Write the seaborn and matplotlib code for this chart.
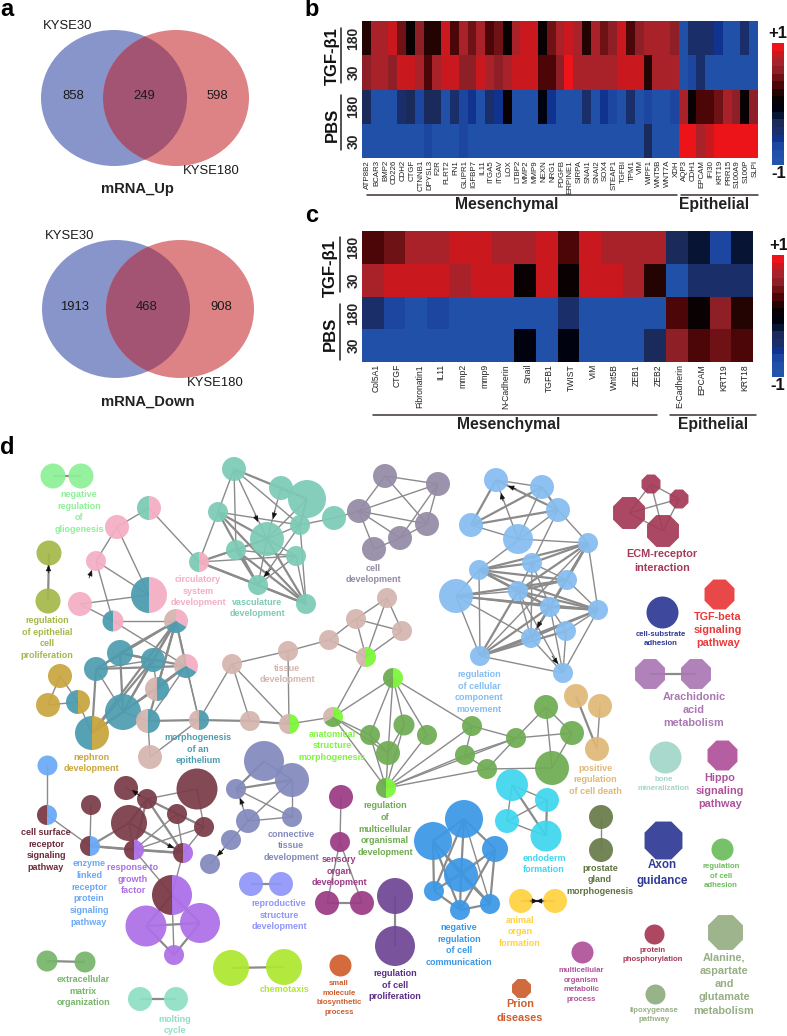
import numpy as np
import matplotlib
matplotlib.use('Agg')
import matplotlib.pyplot as plt
import seaborn as sns
from matplotlib.colors import ListedColormap, BoundaryNorm
from matplotlib.patches import Ellipse, Wedge
from matplotlib.transforms import ScaledTranslation

W, H = 787, 1036

# panel b / c heatmap values
genes_b = ['ATP8B2', 'BCAR3', 'BMP2', 'CD226', 'CDH2', 'CTGF', 'CTNNB1', 'DPYSL3', 'F2R', 'FLRT2', 'FN1', 'GLIPR1',
           'IGFBP7', 'IL11', 'ITGA5', 'ITGAV', 'LOX', 'LTBP2', 'MMP2', 'MMP9', 'NEXN', 'NRG1', 'PDGFB', 'ERPINE1',
           'SIRPA', 'SNAI1', 'SNAI2', 'SOX4', 'STEAP1', 'TGFBI', 'TPM1', 'VIM', 'WIPF1', 'WNT5B', 'WNT7A', 'XDH',
           'AQP3', 'CDH1', 'EPCAM', 'IFI30', 'KRT19', 'PRR15', 'S100A9', 'S100P', 'SLPI']
tgf180_b = [.2, .7, .7, .85, .45, .12, .55, .2, .2, .85, .3, .65, .45, .7, .3, .45, .05, .7, .85, .85, .02, .45, .7,
            .85, .7, .15, .7, .45, .6, .85, .3, .6, .7, .7, .7, .55, -.8, -.4, -.5, -.4, -.6, -.8, -.8, -.4, -.8]
tgf30_b = [.5, .7, .7, .6, .85, .85, .7, .3, .7, .85, .85, .5, .6, .85, .7, .6, .7, .85, .85, .85, .3, .3, .6, 1,
           .7, .7, .7, .7, .7, .85, .85, .85, .15, .7, .7, .7, -.8, -.7, -.4, -.8, -.8, -.8, -.8, -.8, -.8]
pbs180_b = [-.3, -.8, -.8, -.8, -.4, -.3, -.75, -.3, -.3, -.8, -.4, -.7, -.6, -.8, -.4, -.6, .03, -.8, -.8, -.8,
            -.1, -.6, -.8, -.8, -.8, -.4, -.8, -.6, -.7, -.8, -.4, -.8, -.75, -.8, -.8, -.75,
            .65, .12, .3, .3, .45, .7, .6, .12, .55]
pbs30_b = [-.8, -.8, -.8, -.8, -.8, -.8, -.8, -.75, -.8, -.8, -.8, -.75, -.8, -.8, -.8, -.8, -.8, -.8, -.8, -.8,
           -.8, -.8, -.8, -.8, -.8, -.8, -.8, -.8, -.8, -.8, -.8, -.8, -.35, -.8, -.8, -.8,
           1, 1, .65, .85, 1, 1, 1, 1, 1]

genes_c = ['Col5A1', 'CTGF', 'Fibronatin1', 'IL11', 'mmp2', 'mmp9', 'N-Cadherin', 'Snail', 'TGFB1', 'TWIST', 'VIM',
           'Wnt5B', 'ZEB1', 'ZEB2', 'E-Cadherin', 'EPCAM', 'KRT19', 'KRT18']
tgf180_c = [.3, .42, .7, .7, .85, .85, .7, .7, .85, .33, .85, .7, .7, .7, -.35, -.15, -.75, -.25]
tgf30_c = [.65, .85, .85, .85, .7, .85, .85, .03, .85, .03, .85, .85, .7, .15, -.8, -.4, -.45, -.4]
pbs180_c = [-.4, -.65, -.8, -.75, -.8, -.8, -.8, -.8, -.8, -.5, -.8, -.8, -.8, -.8, .3, .05, .55, .15]
pbs30_c = [-.8, -.8, -.8, -.8, -.8, -.8, -.8, -.1, -.8, -.12, -.8, -.8, -.8, -.3, .6, .3, .45, .3]
rows = ['180', '30', '180', '30']

cbar_colors = ['#2353ab', '#2050a8', '#1c46a0', '#0f338e', '#1a2e6a', '#1a2a5a', '#081433', '#01020f',
               '#0a0202', '#240303', '#4c0608', '#6f1216', '#8f1f27', '#a9222a', '#c9191f', '#ec1419']

# panel a
venn_up = ['858', '249', '598']
venn_down = ['1913', '468', '908']

# panel d colours
PINK, AQUA, TEAL, TAN, GOLD = '#f4aec3', '#7ccbb6', '#4d9db0', '#d4b5ae', '#c9a63f'
LIME, GREEN, MAROON, PURPLE, LB = '#7df73a', '#6fac52', '#7a3b48', '#ad6fe8', '#6aa9f5'

# panel d nodes: x, y, radius
gl = [(53, 476, 12.5), (81, 476, 12.5)]
ol = [(49, 553, 12.5), (48, 601, 12.5)]
p = [(117, 527, 12), (96, 561, 10), (80, 604, 12), (149, 508, 12), (149, 595, 18), (113, 621, 10.5), (199, 562, 10)]
v = [(234, 469, 12), (281, 488, 12), (307, 499, 19), (218, 512, 10), (300, 525, 10), (334, 518, 12), (267, 539, 17),
     (236, 550, 10), (296, 556, 10), (258, 585, 10), (306, 604, 10)]
c = [(385, 476, 12), (359, 511, 12), (374, 549, 12), (438, 484, 12), (427, 524, 12), (400, 538, 12)]
t = [(120, 653, 13), (96, 669, 12), (153, 660, 12), (123, 712, 18), (157, 689, 12), (148, 721, 12), (176, 621, 12),
     (186, 666, 12), (199, 720, 10)]
n = [(60, 676, 12), (48, 705, 12), (78, 702, 12), (92, 733, 17)]
a = [(232, 664, 10), (288, 651, 10), (329, 640, 10), (356, 619, 10), (387, 598, 10), (402, 631, 10), (250, 721, 10),
     (150, 757, 12), (366, 657, 10), (289, 724, 10), (333, 717, 10)]
g = [(393, 678, 10), (370, 735, 10), (404, 725, 10.5), (388, 753, 12), (386, 788, 10), (427, 735, 10), (472, 726, 10),
     (516, 738, 10), (546, 707, 12), (572, 733, 12), (465, 755, 10), (487, 769, 10), (552, 768, 17)]
o = [(576, 696, 12), (600, 706, 12), (597, 749, 12)]
b = [(496, 480, 12), (542, 487, 12), (558, 510, 12), (471, 525, 12), (518, 539, 15), (588, 543, 10), (479, 570, 10),
     (532, 563, 10), (567, 580, 10), (456, 596, 17), (518, 591, 10), (550, 607, 10), (598, 610, 10), (531, 638, 10),
     (566, 631, 10), (480, 656, 10), (563, 673, 10)]
r = [(91, 805, 10), (126, 788, 12), (147, 799, 10), (197, 789, 20.5), (129, 823, 18), (177, 814, 10), (204, 827, 10),
     (47, 815, 10), (90, 846, 10), (134, 850, 10), (183, 853, 10), (172, 895, 20)]
lb = [(47, 765, 10)]
u = [(146, 926, 20.5), (200, 923, 20), (174, 955, 10)]
s = [(264, 761, 20), (292, 780, 17), (236, 789, 10), (248, 821, 12), (292, 817, 10), (231, 840, 10), (210, 864, 10)]
pw = [(251, 884, 12), (281, 884, 12)]
m = [(341, 797, 12), (340, 842, 10), (327, 903, 12), (362, 903, 12)]
dp = [(395, 896, 18), (395, 946, 20)]
ex = [(47, 961, 10.5), (85, 962, 10.5)]
ch = [(231, 968, 18), (284, 967, 18)]
mo = [(140, 999, 12), (176, 999, 12)]
pr = [(601, 817, 12), (601, 850, 12)]
en = [(512, 785, 16), (547, 800, 12), (507, 821, 12), (546, 836, 15.5)]
nb = [(464, 819, 19), (433, 841, 19), (495, 849, 13), (461, 875, 17), (434, 891, 10), (460, 910, 10), (490, 904, 10)]
ye = [(521, 901, 12), (555, 901, 12)]
ecm = [(651, 484, 9.5), (679, 499, 9.5), (629, 513, 16), (663, 531, 16)]
ar = [(650, 674, 15), (696, 674, 15)]

groups = {'gl': (gl, '#8ef098', 'o'), 'ol': (ol, '#a4b84a', 'o'), 'p': (p, PINK, 'o'), 'v': (v, AQUA, 'o'),
          'c': (c, '#948aa5', 'o'), 't': (t, TEAL, 'o'), 'n': (n, GOLD, 'o'), 'a': (a, TAN, 'o'), 'g': (g, GREEN, 'o'),
          'o': (o, '#dfb877', 'o'), 'b': (b, '#85bdf0', 'o'), 'r': (r, MAROON, 'o'), 'lb': (lb, LB, 'o'),
          'u': (u, PURPLE, 'o'), 's': (s, '#8289bd', 'o'), 'pw': (pw, '#8f96f9', 'o'), 'm': (m, '#9b3b86', 'o'),
          'dp': (dp, '#6f4795', 'o'), 'ex': (ex, '#77b56a', 'o'), 'ch': (ch, '#aee82f', 'o'), 'mo': (mo, '#8fdfc4', 'o'),
          'pr': (pr, '#687c4a', 'o'), 'en': (en, '#3ed6ee', 'o'), 'nb': (nb, '#3b98e6', 'o'), 'ye': (ye, '#ffd23f', 'o'),
          'ecm': (ecm, '#a53a58', '8'), 'ar': (ar, '#ab78b4', '8'),
          'x1': ([(662, 612, 16)], '#2f3b96', 'o'), 'x2': ([(719, 594, 15)], '#e83a3a', '8'),
          'x3': ([(665, 757, 16)], '#a3d6c9', 'o'), 'x4': ([(722, 755, 15)], '#b0529b', '8'),
          'x5': ([(663, 840, 19)], '#2f3b96', '8'), 'x6': ([(722, 849, 11)], '#6dbd5c', 'o'),
          'x7': ([(521, 988, 9.5)], '#cd5f30', '8'), 'x8': ([(582, 952, 11)], '#b0529b', 'o'),
          'x9': ([(654, 934, 10)], '#a83a55', 'o'), 'x10': ([(725, 932, 17.5)], '#97af84', '8'),
          'x11': ([(655, 994, 10)], '#8fae80', 'o'), 'x12': ([(340, 965, 11)], '#d0602e', 'o')}

# clockwise from 12 o'clock
splits = {'p3': [PINK, AQUA], 'p4': [PINK, TEAL], 'p5': [PINK, TEAL], 'p6': [PINK, AQUA],
          't4': [TEAL, TAN], 't5': [TEAL, TAN], 't6': [PINK, TEAL, TAN], 't7': [PINK, TEAL, TAN], 't8': [TEAL, TAN],
          'n2': [GOLD, TEAL], 'n3': [GOLD, TEAL], 'a8': [LIME, TAN], 'a9': [LIME, TAN], 'a10': [LIME, GREEN, TAN],
          'g0': [LIME, GREEN], 'g4': [LIME, GREEN], 'r7': [LB, MAROON], 'r8': [LB, MAROON],
          'r9': [PURPLE, MAROON], 'r10': [PURPLE, MAROON], 'r11': [PURPLE, MAROON]}

thin_edges = """p0-p3 p0-p1 p0-p4 p1-p4 p1-p5 p2-p5 p3-p6 p5-t6 p5-t7 p2-p4
v0-v3 v0-v6 v0-v4 v0-v7 v1-v6 v3-v4 v2-v6 v4-v5 v4-v6 v4-v9 v4-v10 v6-v8 v6-v9 v7-v8 v8-v9 v8-v10 v5-c1 p6-v3 p6-v7 p6-v8
c0-c1 c1-c2 c1-c3 c1-c5 c1-c4 c0-c3 c0-c4 c3-c4 c3-c5 c4-c5 c2-c5
t0-t1 t1-t2 t1-t3 t2-t4 t3-t4 t3-t5 t5-t7 t7-t8 t6-t8 n0-n1 n0-n2 n1-n2 n2-n3
a0-a1 a1-a2 a2-a3 a3-a4 a2-a8 a3-a8 a4-a8 a3-a5 a4-a5 a5-a8 t8-a0 a0-a6 a0-a9 a1-a9 a9-a10 a8-a10 t5-a7 t8-a7
a10-g0 a10-g1 g0-g1 g0-g3 g0-g2 g0-g5 g0-g6 a10-g3 a10-g4 g1-g3 g1-g4 g2-g3 g2-g4 g3-g4 g4-g5 g4-g6 g4-g7 g4-g10 g4-g11
g6-g7 g6-g10 g7-g8 g7-g9 g7-g10 g7-g11 g8-g9 g8-g12 g9-g12 g10-g11 g11-g12 o1-o2
b0-b1 b0-b4 b1-b4 b2-b5 b2-b7 b3-b4 b4-b5 b2-b6 b5-b12 b5-b15 b6-b15 b9-b6 b9-b10 b9-b11 b9-b12 b9-b15 b9-b13
b7-b8 b7-b10 b7-b11 b7-b13 b8-b12 b8-b13 b10-b13 b10-b16 b11-b14 b11-b16 b12-b14 b12-b16 b13-b16 b14-b16 b15-b16
r0-r8 lb0-r7 r7-r8 r1-r2 r2-r3 r2-r5 r3-r6 r5-r6 r5-r10 r4-r9 r5-r9 r6-r9 r6-r10 r9-r11 r10-r11 r11-u2
s0-s1 s1-s3 s1-s4 s2-s3 s2-s4 s3-s4 s3-s5 s5-s6 m0-m1 m1-m2 m1-m3 pr0-pr1 nb0-nb6 nb1-nb3 nb2-nb3 nb2-nb4 nb3-nb4
ecm0-ecm2 ecm1-ecm3 ecm1-ecm2 ecm0-ecm1 ecm0-ecm3 ecm2-ecm3 en0-en1 en1-en2 en2-en3 en0-en2"""

thick_edges = """gl0-gl1 ol1-ol0 v0-v2 v3-v6 v3-v9 v3-v10 v1-v2 v2-v4 v6-v10 v7-v9 v7-v10 v9-v10 p6-v6 p6-v9 p6-v10
t0-t2 t0-t3 t0-t6 t1-t7 t2-t3 t2-t6 t3-t6 t3-t7 t4-t6 t4-t7 t5-t6 t0-t7 t1-t6 n3-t6 n3-t2 n3-t1 n3-t3 t6-t7 t5-t8 t3-n3
a6-a9 t8-a6 o0-o2 b0-b2 b1-b3 b2-b3 b0-b3 b1-b2 b5-b6 b5-b7 b5-b8 b5-b10 b5-b11 b5-b13 b6-b7 b6-b8 b6-b10 b6-b11 b6-b12
b8-b9 b8-b10 b9-b12 b10-b11 b10-b12 b10-b15 b11-b12 b11-b13 b11-b15 b12-b13 b12-b15 b13-b15 b14-b15
r8-r4 r8-r9 r8-r10 r9-r10 r2-r4 r2-r6 r2-r9 r2-r10 r4-r10 r11-u0 u0-u1 u0-u2 u1-u2 r11-u1 s0-s2 s1-s2 m2-m3 dp0-dp1
ex0-ex1 ch0-ch1 mo0-mo1 pw0-pw1 ye0-ye1 ar0-ar1 en0-en3 en1-en3 nb0-nb1 nb0-nb2 nb0-nb3 nb0-nb4 nb1-nb4 nb1-nb5 nb1-nb6
nb2-nb6 nb2-nb5 nb3-nb5 nb3-nb6 nb4-nb5 nb5-nb6"""

# small arrow heads (from x, from y, to x, to y)
arrows = [(48.5, 573, 48.5, 565), (89, 578, 92, 570), (255, 515, 258, 522), (275, 511, 273, 519), (271, 569, 264, 577),
          (516, 489, 508, 486), (503, 501, 501, 493), (541, 621, 537, 628), (552, 656, 558, 664),
          (140, 796, 132, 790), (167, 845, 174, 848), (243, 806, 240, 798), (224, 849, 217, 856),
          (530, 901, 538, 901), (544, 901, 536, 901)]

# text, centre x, centre y, colour, size
small, mid, big = 5.6, 6.5, 7.8
labels = [('negative\nregulation\nof\ngliogenesis', 79, 512, '#8ef098', mid),
          ('regulation\nof epithelial\ncell\nproliferation', 47, 638, '#a4b84a', mid),
          ('circulatory\nsystem\ndevelopment', 198, 591, PINK, mid),
          ('vasculature\ndevelopment', 257, 608, AQUA, mid),
          ('cell\ndevelopment', 373, 574, '#948aa5', mid),
          ('tissue\ndevelopment', 287, 674, TAN, mid),
          ('morphogenesis\nof an\nepithelium', 198, 749, TEAL, mid),
          ('anatomical\nstructure\nmorphogenesis', 332, 746, LIME, mid),
          ('nephron\ndevelopment', 91, 763, GOLD, mid),
          ('cell surface\nreceptor\nsignaling\npathway', 46, 850, '#6d2a3a', mid),
          ('enzyme\nlinked\nreceptor\nprotein\nsignaling\npathway', 89, 893, LB, mid),
          ('response to\ngrowth\nfactor', 133, 879, PURPLE, mid),
          ('connective\ntissue\ndevelopment', 291, 846, '#8289bd', mid),
          ('sensory\norgan\ndevelopment', 339, 871, '#9b3b86', mid),
          ('reproductive\nstructure\ndevelopment', 279, 915, '#8f96f9', mid),
          ('regulation\nof\nmulticellular\norganismal\ndevelopment', 385, 829, GREEN, mid),
          ('regulation\nof cellular\ncomponent\nmovement', 479, 692, '#85bdf0', mid),
          ('ECM-receptor\ninteraction', 662, 561, '#a53a58', big),
          ('TGF-beta\nsignaling\npathway', 718, 630, '#e83a3a', big),
          ('cell-substrate\nadhesion', 661, 639, '#2f3b96', small),
          ('Arachidonic\nacid\nmetabolism', 694, 710, '#ab78b4', big),
          ('positive\nregulation\nof cell death', 595, 780, '#dfb877', mid),
          ('bone\nmineralization', 664, 784, '#a3d6c9', small),
          ('Hippo\nsignaling\npathway', 720, 791, '#b0529b', big),
          ('endoderm\nformation', 544, 864, '#3ed6ee', mid),
          ('prostate\ngland\nmorphogenesis', 600, 880, '#5f7340', mid),
          ('Axon\nguidance', 662, 873, '#2f3b96', 8.4),
          ('regulation\nof cell\nadhesion', 721, 876, '#6dbd5c', small),
          ('negative\nregulation\nof cell\ncommunication', 459, 945, '#3b98e6', mid),
          ('animal\norgan\nformation', 520, 932, '#ffd23f', mid),
          ('protein\nphosphorylation', 653, 955, '#a83a55', small),
          ('Alanine,\naspartate\nand\nglutamate\nmetabolism', 724, 984, '#97af84', big),
          ('multicellular\norganism\nmetabolic\nprocess', 581, 985, '#b0529b', small),
          ('lipoxygenase\npathway', 654, 1015, '#97af84', small),
          ('Prion\ndiseases', 520, 1011, '#cd5f30', big),
          ('regulation\nof cell\nproliferation', 395, 985, '#5a2d87', mid),
          ('small\nmolecule\nbiosynthetic\nprocess', 339, 998, '#cd5f30', small),
          ('chemotaxis', 284, 990, '#aee82f', mid),
          ('extracellular\nmatrix\norganization', 83, 991, '#77b56a', mid),
          ('molting\ncycle', 175, 1025, '#8fdfc4', mid)]

sns.set_theme(style='white')
plt.rcParams['font.family'] = ['Liberation Sans', 'DejaVu Sans']

fig = plt.figure(figsize=(W / 100, H / 100), dpi=100)


def px_axes(x0, y0, x1, y1):
    return fig.add_axes([x0 / W, 1 - y1 / H, (x1 - x0) / W, (y1 - y0) / H])


bg = px_axes(0, 0, W, H)
bg.set_xlim(0, W)
bg.set_ylim(H, 0)
bg.axis('off')

# panel letters
for letter, lx, ly in [('a', 7, 10), ('b', 312, 10), ('c', 312, 216), ('d', 7, 447)]:
    bg.text(lx, ly, letter, fontsize=17, fontweight='bold', color='black', ha='center', va='center')


# panel a
def venn(cx1, cx2, cy, rx, ry, nums, title, tpos, lab1, lab2, nxs):
    e1 = Ellipse((cx1, cy), 2 * rx, 2 * ry, fc='#8795cb', ec='none')
    e2 = Ellipse((cx2, cy), 2 * rx, 2 * ry, fc='#dd8385', ec='none')
    bg.add_patch(e1)
    bg.add_patch(e2)
    e3 = Ellipse((cx2, cy), 2 * rx, 2 * ry, fc='#a35473', ec='none')
    bg.add_patch(e3)
    e3.set_clip_path(e1)
    for num, nx in zip(nums, nxs):
        bg.text(nx, cy - 2, num, fontsize=9.4, ha='center', va='center', color='#1a1a1a')
    bg.text(lab1[0], lab1[1], 'KYSE30', fontsize=9.4, ha='center', va='center', color='#1a1a1a')
    bg.text(lab2[0], lab2[1], 'KYSE180', fontsize=9.4, ha='center', va='center', color='#1a1a1a')
    bg.text(tpos[0], tpos[1], title, fontsize=10.6, fontweight='bold', ha='center', va='center', color='#222222')


venn(114, 176, 98, 73, 68, venn_up, 'mRNA_Up', (137, 189), (68, 26), (211, 171), (73, 144, 217))
venn(116, 180, 309, 74, 69, venn_down, 'mRNA_Down', (148, 402), (70, 236), (215, 383), (75, 147, 221))

# panels b, c
cmap = ListedColormap(cbar_colors)
norm = BoundaryNorm(np.linspace(-1, 1, len(cbar_colors) + 1), len(cbar_colors))


def heat(vals, genes, box, cbox, gene_size, shift):
    ax = px_axes(*box)
    cax = px_axes(*cbox)
    sns.heatmap(np.array(vals), ax=ax, cbar_ax=cax, cmap=cmap, norm=norm, xticklabels=genes, yticklabels=rows,
                linewidths=0, cbar_kws={'ticks': []})
    cbar = ax.collections[0].colorbar
    cbar.outline.set_visible(False)
    cbar.minorticks_off()
    cax.tick_params(which='both', length=0, labelright=False)
    ax.tick_params(axis='x', length=0, pad=1.5, labelsize=gene_size, labelrotation=90, labelcolor='#222222')
    ax.tick_params(axis='y', length=0, pad=1, labelsize=10, labelrotation=90)
    off = ScaledTranslation(shift / 100, 0, fig.dpi_scale_trans)
    for lab in ax.get_xticklabels():
        lab.set_transform(lab.get_transform() + off)
    for lab in ax.get_yticklabels():
        lab.set_fontweight('bold')
        lab.set_va('center')
    for side in ax.spines.values():
        side.set_visible(False)
    return ax


heat([tgf180_b, tgf30_b, pbs180_b, pbs30_b], genes_b, (362, 21, 758, 158), (772, 43, 784, 165), 5.7, 1.5)
heat([tgf180_c, tgf30_c, pbs180_c, pbs30_c], genes_c, (362, 231, 753, 362), (772, 255, 784, 377), 6.2, 3)

# side labels, brackets and +1 / -1 for b then c
for tx, ty, px_ in [(332, 56, 125), (330, 268, 334)]:
    bg.text(tx, ty, 'TGF-β1', rotation=90, fontsize=12, fontweight='bold', ha='center', va='center', color='#111111')
    bg.text(tx, px_, 'PBS', rotation=90, fontsize=12, fontweight='bold', ha='center', va='center', color='#111111')
for lx, y0, y1 in [(341, 28, 83), (341, 95, 150), (340, 237, 292), (340, 304, 360)]:
    bg.plot([lx, lx], [y0, y1], color='#222222', lw=1.1)
for x0, x1, y in [(367, 677, 195), (681, 758, 195), (373, 657, 415), (670, 756, 415)]:
    bg.plot([x0, x1], [y, y], color='#3a3034', lw=1.1)
for name, x, y in [('Mesenchymal', 507, 205), ('Epithelial', 714, 205), ('Mesenchymal', 509, 425), ('Epithelial', 713, 425)]:
    bg.text(x, y, name, fontsize=11.3, fontweight='bold', ha='center', va='center', color='#222222')
for name, x, y in [('+1', 778, 33), ('-1', 779, 173), ('+1', 779, 245), ('-1', 778, 386)]:
    bg.text(x, y, name, fontsize=12, fontweight='bold', ha='center', va='center', color='#111111')

# panel d
pos = {}
for key, (nodes, col, mk) in groups.items():
    for i, node in enumerate(nodes):
        pos[key + str(i)] = node

for text, lw in [(thin_edges, 1.0), (thick_edges, 1.6)]:
    for edge in text.split():
        e0, e1 = edge.split('-')
        bg.plot([pos[e0][0], pos[e1][0]], [pos[e0][1], pos[e1][1]], color='#8b8b8b', lw=lw, zorder=2,
                solid_capstyle='butt')

for key, (nodes, col, mk) in groups.items():
    keep = [nd for i, nd in enumerate(nodes) if key + str(i) not in splits]
    if not keep:
        continue
    fac = 1.08 if mk == '8' else 1
    sizes = [(2 * nd[2] * fac * 0.72) ** 2 for nd in keep]
    sns.scatterplot(x=[nd[0] for nd in keep], y=[nd[1] for nd in keep], s=sizes, color=col, marker=mk, linewidth=0,
                    alpha=0.93, ax=bg, legend=False, zorder=3)

for name, cols in splits.items():
    x, y, rad = pos[name]
    step = 360 / len(cols)
    for i, col in enumerate(cols):
        bg.add_patch(Wedge((x, y), rad, -90 + i * step, -90 + (i + 1) * step, fc=col, ec='none', alpha=0.95, zorder=3))

for x0, y0, x1, y1 in arrows:
    bg.annotate('', xy=(x1, y1), xytext=(x0, y0), zorder=4,
                arrowprops=dict(arrowstyle='-|>,head_width=0.13,head_length=0.3', color='#111111', lw=0.5,
                                shrinkA=0, shrinkB=0))

for text, x, y, col, size in labels:
    bg.text(x, y, text, fontsize=size, fontweight='bold', color=col, ha='center', va='center',
            linespacing=1.5 if size == small else 1.42, zorder=5)

bg.set_xlim(0, W)
bg.set_ylim(H, 0)
fig.savefig('out.png', dpi=100)
